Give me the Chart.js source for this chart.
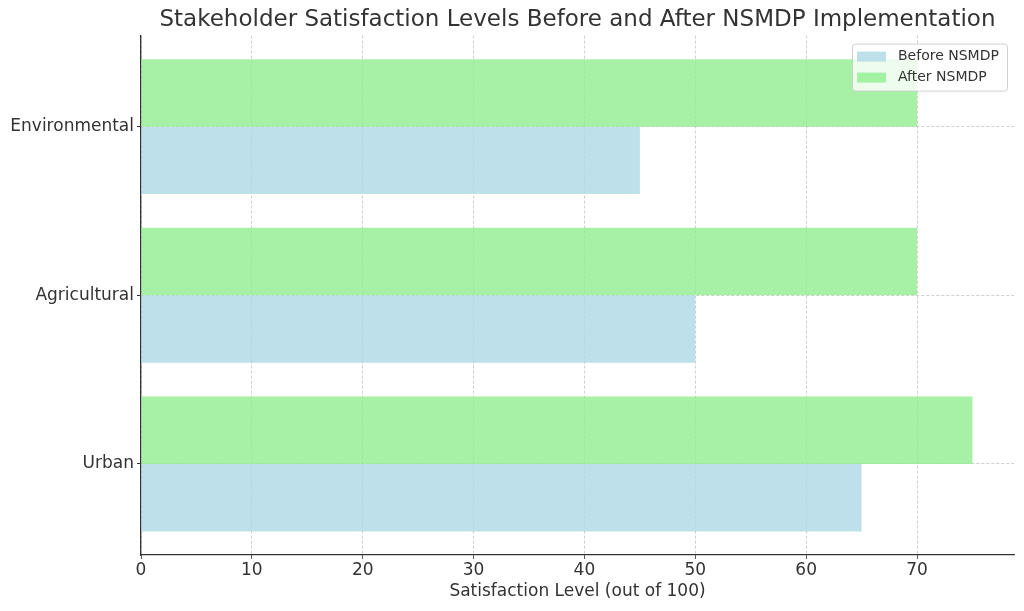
<!DOCTYPE html>
<html>
<head>
<meta charset="utf-8">
<script src="https://cdn.jsdelivr.net/npm/chart.js@4/dist/chart.umd.min.js"></script>
<style>
html,body{margin:0;padding:0;background:#fff;}
#wrap{width:1024px;height:611px;}
</style>
</head>
<body>
<div id="wrap"><canvas id="c" width="1024" height="611"></canvas></div>
<script>
const categories = ['Urban', 'Agricultural', 'Environmental'];
const beforeValues = [65, 50, 45];
const afterValues = [75, 70, 70];
const xTicks = [0, 10, 20, 30, 40, 50, 60, 70];
const seriesNames = ['Before NSMDP', 'After NSMDP'];
const chartTitle = 'Stakeholder Satisfaction Levels Before and After NSMDP Implementation';
const xTitle = 'Satisfaction Level (out of 100)';

const FONT = "'DejaVu Sans', sans-serif";
const blue = 'rgba(173,216,230,0.8)';
const green = 'rgba(144,238,144,0.8)';
const gridColor = 'rgba(170,170,170,0.7)';

const toPoints = arr => arr.map((v, i) => ({x: v, y: i}));

const legendBox = {
  id: 'legendBox',
  afterDraw(chart) {
    const ctx = chart.ctx;
    const ca = chart.chartArea;
    const right = ca.right - 7, top = ca.top + 8;
    const w = 155, h = 47;
    const left = right - w;
    ctx.save();
    ctx.fillStyle = 'rgba(255,255,255,0.8)';
    ctx.strokeStyle = 'rgba(204,204,204,0.9)';
    ctx.lineWidth = 1;
    ctx.setLineDash([]);
    ctx.beginPath();
    if (ctx.roundRect) ctx.roundRect(left + 0.5, top + 0.5, w, h, 3); else ctx.rect(left + 0.5, top + 0.5, w, h);
    ctx.fill();
    ctx.stroke();
    const items = [chart.data.datasets[1], chart.data.datasets[0]];
    ctx.font = '14px ' + FONT;
    ctx.textBaseline = 'middle';
    items.forEach((ds, i) => {
      const cy = top + 13 + i * 21;
      ctx.fillStyle = ds.backgroundColor;
      ctx.fillRect(left + 5, cy - 5, 29, 10);
      ctx.fillStyle = '#333';
      ctx.fillText(ds.label, left + 46, cy);
    });
    ctx.restore();
  }
};

new Chart(document.getElementById('c'), {
  type: 'bar',
  data: {
    datasets: [
      {label: seriesNames[1], data: toPoints(afterValues), backgroundColor: green, borderWidth: 0},
      {label: seriesNames[0], data: toPoints(beforeValues), backgroundColor: blue, borderWidth: 0}
    ]
  },
  options: {
    indexAxis: 'y',
    responsive: false,
    animation: false,
    devicePixelRatio: 1,
    layout: {padding: {left: 0, right: 10, top: 0, bottom: 0}},
    datasets: {bar: {categoryPercentage: 0.8, barPercentage: 1.0}},
    plugins: {
      legend: {display: false},
      tooltip: {enabled: false},
      title: {
        display: true,
        text: chartTitle,
        fullSize: false,
        color: '#333',
        font: {family: FONT, size: 23, weight: 'normal'},
        padding: {top: 6, bottom: 2}
      }
    },
    scales: {
      x: {
        type: 'linear',
        min: 0,
        max: 78.75,
        z: 1,
        afterBuildTicks: axis => { axis.ticks = xTicks.map(v => ({value: v})); },
        afterFit: scale => { scale.height = 56; },
        ticks: {color: '#333', font: {family: FONT, size: 17}, padding: 1, includeBounds: false},
        grid: {
          color: gridColor, lineWidth: 0.8,
          tickLength: 4, tickColor: '#333', tickWidth: 1, tickBorderDash: [1, 0]
        },
        border: {display: true, color: '#333', width: 1.3, dash: [3, 2]},
        title: {display: true, text: xTitle, color: '#333', font: {family: FONT, size: 17}, padding: {top: 0, bottom: 9}}
      },
      y: {
        type: 'linear',
        min: -0.54,
        max: 2.54,
        offset: false,
        z: 1,
        afterBuildTicks: axis => { axis.ticks = categories.map((c, i) => ({value: i})); },
        afterFit: scale => { scale.width = 141; },
        ticks: {
          color: '#333', font: {family: FONT, size: 17}, padding: 3,
          callback: v => categories[v]
        },
        grid: {
          offset: false,
          color: gridColor, lineWidth: 0.8,
          tickLength: 4, tickColor: '#333', tickWidth: 1, tickBorderDash: [1, 0]
        },
        border: {display: true, color: '#333', width: 1.3, dash: [3, 2]}
      }
    }
  },
  plugins: [legendBox]
});
</script>
</body>
</html>
